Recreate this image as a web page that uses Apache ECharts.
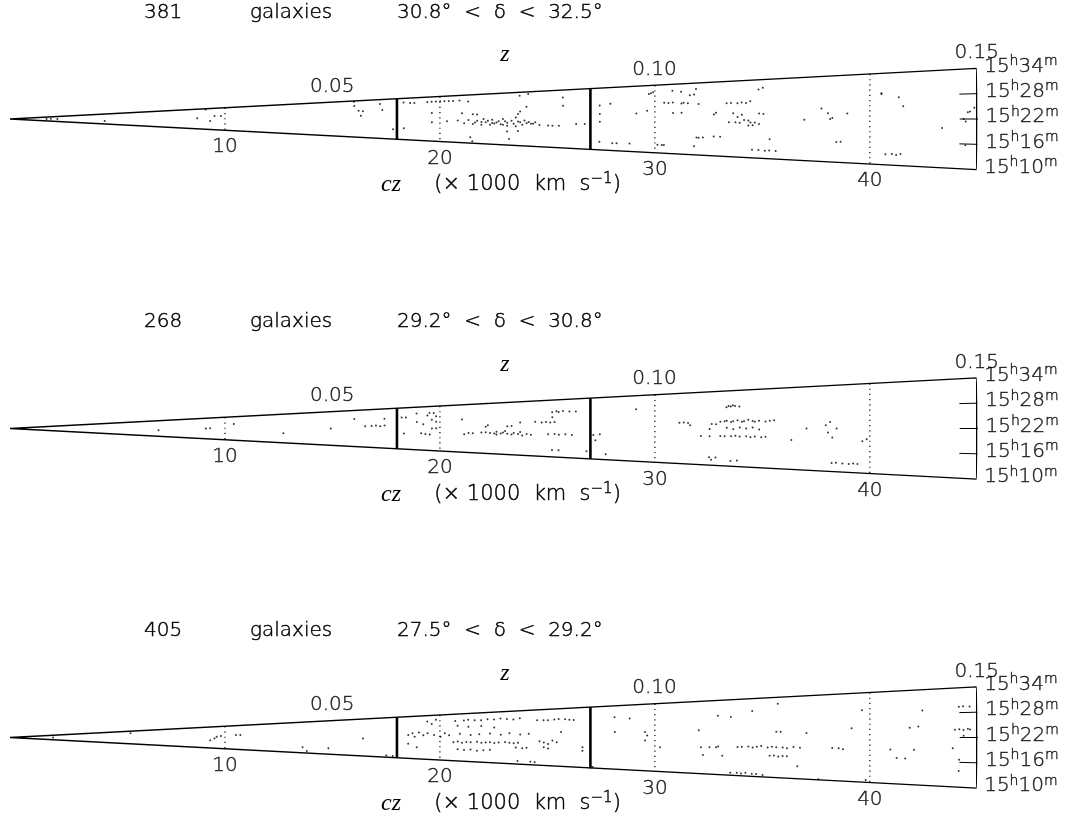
<!DOCTYPE html>
<html>
<head>
<meta charset="utf-8">
<title>Redshift slices</title>
<script src="https://cdn.jsdelivr.net/npm/echarts@6/dist/echarts.min.js"></script>
<style>
    html, body { margin: 0; padding: 0; background: #fff; }
    #chart { width: 1072px; height: 830px; }
</style>
</head>
<body>
<div id="chart"></div>
<script>
// slice headers
const galaxyCounts = [381, 268, 405];
const decLow = ['30.8', '29.2', '27.5'];
const decHigh = ['32.5', '30.8', '29.2'];

// ticks
const czTicks = [10, 20, 30, 40];        // cz, 1000 km/s
const zTicks = [0.05, 0.10, 0.15];
const raTicks = [10, 16, 22, 28, 34];    // RA minutes after 15h
const sampleLimits = [18, 27];           // thick lines, cz in 1000 km/s

// galaxies: [cz (1000 km/s), RA minutes after 15h]
const slice1 = [
    [1.7,22.5],[1.9,22.8],[2.2,22.0],[4.4,17.2],
    [8.7,22.8],[9.3,19.7],[9.5,25.4],[9.8,25.2],[9.1,33.2],
    [16.0,33.5],[16.0,30.6],[16.2,27.5],[16.4,27.0],[16.3,24.2],[17.2,31.3],[17.3,27.5],[17.8,15.8],
    [18.3,16.6],[18.3,31.6],[18.6,31.2],[18.8,31.0],
    [19.4,31.4],[19.6,31.4],[19.8,31.4],[20.0,31.5],[20.2,31.3],[20.4,31.4],[20.6,31.3],[20.9,31.4],[21.3,30.7],
    [19.6,25.3],[19.6,20.2],[20.3,20.8],[21.0,24.9],[21.5,24.4],[21.7,24.2],
    [20.8,21.2],[21.1,19.8],[21.3,21.5],[21.5,19.5],[21.7,21.2],[21.9,19.2],[22.0,22.0],[22.1,20.4],[22.2,21.2],
    [22.3,19.3],[22.4,21.6],[22.5,19.9],[22.7,20.9],[22.8,19.6],[22.9,22.0],[23.1,20.3],[23.1,18.9],[23.3,21.2],
    [23.4,19.8],[23.5,22.7],[23.6,24.3],[23.7,20.5],[23.8,19.4],[23.9,21.3],[24.0,20.2],[24.2,19.9],[24.3,19.9],
    [21.9,20.6],[22.6,20.4],[23.0,21.0],[22.4,20.1],[23.6,20.9],[24.1,20.7],[21.6,20.3],[22.9,19.3],[23.5,18.7],
    [24.4,20.6],[24.6,19.4],
    [23.7,32.5],[24.1,33.1],[24.0,27.4],[23.7,25.4],[25.0,19.2],[25.2,19.2],[25.5,19.2],[25.7,30.9],[25.7,27.5],
    [26.3,20.0],[26.7,20.0],
    [21.4,12.9],[21.5,11.0],[23.2,12.8],[23.1,16.2],[23.6,16.6],
    [27.4,27.2],[27.9,27.8],[27.4,23.9],[27.4,20.9],[27.4,13.2],[28.0,12.8],[28.2,12.8],[28.8,12.9],
    [29.7,31.0],[29.8,31.2],[29.9,31.5],[29.1,24.0],[29.6,25.0],
    [30.1,12.9],[30.3,12.9],[30.4,12.9],[30.4,27.7],[30.6,27.6],[30.8,27.7],[30.8,31.8],[31.2,31.3],
    [31.2,27.3],[31.3,27.5],[31.5,27.3],[31.6,30.0],[31.8,30.2],[30.8,24.1],[31.2,24.1],[32.0,27.0],[31.9,32.0],
    [31.8,12.9],[31.9,15.8],[32.0,15.8],[32.2,15.9],[32.7,16.3],[33.0,16.3],[32.8,24.0],[32.7,23.5],
    [33.3,27.0],[33.5,27.1],[33.8,27.0],[34.0,27.2],[34.2,27.0],[34.4,27.5],
    [33.6,23.8],[33.8,22.6],[34.0,23.3],[34.3,21.5],[34.4,20.9],[34.6,20.9],[34.8,23.7],
    [33.4,21.0],[33.7,21.0],[33.9,20.8],[34.1,21.7],[34.3,20.0],[34.5,20.1],
    [34.8,31.0],[35.0,31.5],[35.0,23.5],[34.8,20.5],
    [34.5,12.5],[34.8,12.5],[35.1,12.4],[35.3,12.5],[35.6,12.4],[35.3,15.9],
    [36.9,21.8],[37.7,25.0],[38.0,23.6],[38.1,22.0],[38.2,22.3],[38.9,23.5],[38.4,15.6],[38.6,15.7],
    [40.5,28.6],[40.5,28.8],[41.3,27.6],[41.5,25.3],[40.7,12.8],[41.0,12.9],[41.2,12.7],[41.4,13.0],
    [43.3,19.8],[44.3,22.0],[44.4,21.4],[44.5,23.6],[44.6,23.8],[44.8,24.7],[44.4,15.7]
];
const slice2 = [
    [6.9,19.3],[9.1,22.0],[9.3,22.2],[10.4,26.6],[12.7,18.0],[14.9,22.0],[16.0,28.4],
    [16.5,23.4],[16.8,23.6],[17.0,23.9],[17.2,23.4],[17.4,23.8],[17.4,27.9],
    [18.2,28.4],[18.4,28.3],[18.3,19.1],[18.9,30.4],[18.9,25.7],[19.2,24.4],[19.1,19.3],[19.3,18.9],[19.5,18.7],
    [19.4,29.2],[19.5,30.4],[19.6,26.8],[19.7,30.4],[19.8,28.6],[19.8,25.6],[19.6,22.0],[19.8,22.1],
    [21.0,26.6],
    [21.1,19.1],[21.3,19.8],[21.5,19.6],[21.9,20.0],[22.1,22.8],[22.2,23.6],[22.1,20.2],[22.3,19.8],[22.5,19.6],
    [22.6,19.2],[22.8,19.7],[22.9,20.1],[23.1,19.6],[23.3,19.3],[23.4,20.0],[23.6,19.5],[23.8,18.9],[24.0,19.6],
    [24.2,19.3],[23.1,23.0],[23.3,23.1],[22.6,20.5],[23.0,20.8],[23.7,20.4],
    [23.7,24.7],[24.4,24.9],[24.7,24.6],[24.9,24.8],[25.1,24.5],[25.3,24.7],
    [25.2,28.9],[25.4,29.2],[25.5,28.9],[25.7,29.2],[26.0,29.0],[26.3,28.9],[25.2,26.8],
    [25.0,19.6],[25.3,19.7],[25.5,19.4],[25.8,19.6],[26.1,19.3],
    [25.2,12.9],[25.5,12.9],[26.8,13.0],
    [27.1,19.4],[27.2,17.4],[27.4,19.8],[27.7,12.1],[29.1,29.0],
    [31.1,24.0],[31.3,24.0],[31.5,23.9],[31.6,23.1],[32.1,19.5],[32.5,19.5],[32.5,21.8],[32.6,23.5],[32.8,23.4],
    [32.5,12.6],[32.8,12.6],[33.5,11.7],[33.8,11.9],[32.6,11.8],
    [33.3,28.8],[33.4,29.2],[33.5,29.0],[33.7,29.1],[33.9,28.9],[33.6,29.4],
    [33.0,24.2],[33.2,24.3],[33.3,24.5],[33.5,24.1],[33.6,24.3],[33.8,24.6],[34.0,24.1],[34.1,24.3],[34.3,24.7],
    [34.5,24.3],[34.6,24.1],[34.8,24.4],[35.1,24.1],[35.3,24.3],[35.5,24.5],
    [33.3,22.2],[33.6,21.8],[33.9,22.3],[34.2,22.0],[34.5,22.3],[34.8,21.7],
    [33.0,19.6],[33.2,19.5],[33.5,19.5],[33.7,19.7],[33.9,19.5],[34.2,19.6],[34.4,19.3],[34.6,19.5],[34.9,19.3],[35.1,19.5],
    [36.3,18.6],[37.0,22.0],[37.9,22.9],[38.1,23.8],[38.0,20.9],[38.2,19.5],[38.4,22.0],
    [38.2,12.4],[38.4,12.5],[38.7,12.4],[39.0,12.3],[39.2,12.5],[39.4,12.4],
    [39.6,18.6],[39.8,19.1]
];
const slice3 = [
    [2.0,22.3],[5.6,30.0],[9.3,18.8],[9.5,20.8],[9.6,22.7],[9.8,23.5],[10.5,24.5],[10.7,24.5],
    [13.6,14.4],[13.8,11.6],[14.8,14.3],[16.4,21.3],[17.5,11.0],[17.8,11.0],
    [18.5,23.4],[18.7,24.4],[18.8,22.4],[19.0,24.8],[19.2,23.3],[18.5,18.4],[18.9,16.5],
    [19.4,30.8],[19.6,29.4],[19.8,31.5],[19.4,24.3],[19.7,23.3],[20.0,22.4],[20.2,24.2],[20.4,23.2],
    [20.7,30.5],[21.1,30.6],[21.3,30.9],[21.6,30.5],[21.9,30.4],[22.2,30.8],[22.5,30.5],[22.8,30.9],[23.1,30.5],
    [23.4,30.2],[23.7,30.7],
    [20.8,28.0],[21.3,27.4],[21.9,27.6],[22.5,26.7],
    [20.9,23.9],[21.4,23.3],[21.8,23.6],[22.3,23.9],[22.8,23.3],[23.2,23.9],[23.7,23.3],[24.1,23.7],
    [20.6,19.6],[20.8,19.9],[21.0,19.4],[21.2,19.7],[21.4,19.6],[21.7,19.9],[21.9,19.4],[22.1,19.6],[22.3,19.7],
    [22.5,19.4],[22.7,19.6],[23.0,19.9],[23.2,19.6],[23.4,19.4],[23.6,19.6],
    [20.8,16.0],[21.1,15.7],[21.4,16.0],[21.7,15.5],[22.0,15.8],[22.3,16.1],
    [23.5,17.5],[23.8,17.2],[24.0,17.4],
    [23.6,11.4],[24.2,11.3],[24.4,11.2],
    [24.5,29.5],[24.8,29.4],[25.0,29.3],[25.3,29.6],[25.5,29.7],[25.8,29.5],[26.0,29.3],[26.2,29.1],
    [24.6,20.4],[24.8,19.8],[25.0,19.2],[25.2,20.7],[25.4,20.0],[24.8,17.8],[25.0,17.3],
    [26.6,18.1],[26.6,16.7],[25.6,24.3],[27.0,10.1],[27.1,10.4],
    [28.1,29.7],[28.8,29.0],[28.1,24.1],[29.5,24.0],[29.6,22.7],[29.5,20.9],[30.2,18.6],
    [32.0,24.4],[32.1,18.8],[32.2,16.2],[32.5,18.8],[32.8,18.8],[32.9,19.1],[33.1,16.1],
    [32.9,29.0],[33.5,28.5],[34.5,30.2],[35.7,32.1],
    [33.8,19.0],[34.0,19.1],[34.3,19.2],[34.5,18.9],[34.7,19.2],[34.9,19.4],[35.2,19.0],[35.4,19.2],[35.6,19.1],
    [35.9,19.0],[36.1,18.8],[36.4,19.2],[36.7,19.0],
    [35.3,16.5],[35.5,16.6],[35.7,16.3],[35.9,16.5],[36.1,16.5],
    [35.6,23.7],[35.8,23.7],[36.6,13.6],[37.0,23.3],
    [33.5,10.8],[33.8,10.9],[34.0,10.7],[34.2,11.0],[34.5,10.8],[34.7,10.8],[35.0,10.6],
    [37.6,10.2],[38.2,19.1],[38.5,19.0],[38.7,18.8],[39.1,24.5],[39.8,10.6],[39.6,29.3],
    [40.9,18.9],[41.2,16.7],[41.6,16.6],[42.0,18.9],[42.2,24.8],[41.8,24.5],[42.4,28.8],
    [43.8,19.4],[44.1,16.6],[43.9,23.9],[44.1,24.0],[44.3,23.8],[44.5,24.1],[44.6,23.9],
    [44.1,29.4],[44.3,29.5],[44.6,29.4],[44.3,22.4],[44.1,13.9]
];

const slices = [slice1, slice2, slice3];
const C = 299.792;                 // speed of light, 1000 km/s
const czMax = 0.15 * C;
const raMid = 22;
const raLo = raTicks[0], raHi = raTicks[raTicks.length - 1];
const apexY = [119, 428.5, 737.5];
const FONT = 'DejaVu Sans';
const INK = '#000';

const chart = echarts.init(document.getElementById('chart'));

function seg(i, pts, style) {
    return {
        type: 'line', coordinateSystem: 'polar', polarIndex: i,
        data: pts, symbol: 'none', silent: true, clip: false,
        lineStyle: Object.assign({ color: '#000', width: 1 }, style)
    };
}

function raText(ra) {
    const m = String(ra).padStart(2, '0');
    return '{n|15}{u|h}{n|' + m + '}{u|m}';
}

// thin font, thickened a little with a stroke
const ink = { color: INK, fontFamily: FONT, fontWeight: 300, textBorderColor: INK, textBorderWidth: 0.45 };
const inkG = { fill: INK, fontFamily: FONT, fontWeight: 300, stroke: INK, lineWidth: 0.45 };

const series = [];
const graphic = [];
slices.forEach((pts, i) => {
    // wedge outline, sample limits, cz grid, RA ticks
    series.push(seg(i, [[0, raMid], [czMax, raHi], [czMax, raLo], [0, raMid]], { width: 1.3 }));
    sampleLimits.forEach(r => series.push(seg(i, [[r, raHi], [r, raLo]], { width: 2.6 })));
    czTicks.forEach(r => series.push(seg(i, [[r, raHi], [r, raLo]], { width: 1.2, type: [1.2, 4] })));
    raTicks.slice(1, -1).forEach(ra => series.push(seg(i, [[czMax - 0.85, ra], [czMax, ra]], { width: 1 })));

    // galaxies
    series.push({
        type: 'scatter', coordinateSystem: 'polar', polarIndex: i,
        data: pts, symbolSize: 2, silent: true,
        itemStyle: { color: '#000' }
    });

    // cz tick labels below the wedge
    series.push({
        type: 'scatter', coordinateSystem: 'polar', polarIndex: i, silent: true,
        data: czTicks.map(c => [c, raLo]), symbolSize: 1,
        itemStyle: { color: 'rgba(0,0,0,0)' },
        label: Object.assign({ show: true, position: 'bottom', distance: 6.5,
            formatter: p => String(p.value[0]), fontSize: 20, lineHeight: 20 }, ink)
    });
    // z labels above the wedge
    series.push({
        type: 'scatter', coordinateSystem: 'polar', polarIndex: i, silent: true,
        data: zTicks.map(z => [z * C, raHi]), symbolSize: 1,
        itemStyle: { color: 'rgba(0,0,0,0)' },
        label: Object.assign({ show: true, position: 'top', distance: 5,
            formatter: p => (p.value[0] / C).toFixed(2), fontSize: 20, lineHeight: 20 }, ink)
    });
    // RA labels at the right end
    series.push({
        type: 'scatter', coordinateSystem: 'polar', polarIndex: i, silent: true,
        data: raTicks.map(ra => [czMax, ra]), symbolSize: 1,
        itemStyle: { color: 'rgba(0,0,0,0)' },
        label: { show: true, position: 'right', distance: 7, offset: [0, -2],
            formatter: p => raText(p.value[1]),
            rich: {
                n: Object.assign({ fontSize: 20, lineHeight: 24 }, ink),
                u: Object.assign({ fontSize: 14, lineHeight: 14, verticalAlign: 'top' }, ink)
            } }
    });

    const y = apexY[i];
    const txt = Object.assign({ fontSize: 20, verticalAlign: 'middle' }, inkG);
    graphic.push({ type: 'text', x: 144, y: y - 106.5, silent: true, style: Object.assign({ text: String(galaxyCounts[i]) }, txt) });
    graphic.push({ type: 'text', x: 250, y: y - 106.5, silent: true, style: Object.assign({ text: 'galaxies' }, txt) });
    graphic.push({ type: 'text', x: 397, y: y - 106.5, silent: true,
        style: Object.assign({ text: decLow[i] + '°  <  δ  <  ' + decHigh[i] + '°' }, txt) });
    graphic.push({ type: 'text', x: 505, y: y - 64, silent: true,
        style: { text: 'z', fill: INK, fontFamily: 'Liberation Serif', fontStyle: 'italic', fontSize: 24,
            align: 'center', verticalAlign: 'middle' } });
    graphic.push({ type: 'text', x: 381, y: y + 66, silent: true,
        style: {
            text: '{i|cz}{t|     (× 1000  km  s}{u|−1}{t|)}', verticalAlign: 'middle',
            rich: {
                i: { fill: INK, fontFamily: 'Liberation Serif', fontStyle: 'italic', fontSize: 24, lineHeight: 26 },
                t: Object.assign({ fontSize: 21, lineHeight: 26 }, inkG),
                u: Object.assign({ fontSize: 15, lineHeight: 15, verticalAlign: 'top' }, inkG)
            }
        } });
});

chart.setOption({
    animation: false,
    backgroundColor: '#fff',
    polar: apexY.map(y => ({ center: [10, y], radius: 968 })),
    angleAxis: apexY.map((y, i) => ({
        polarIndex: i, type: 'value', min: raMid - 720, max: raMid + 720,
        startAngle: 180, clockwise: false, show: false
    })),
    radiusAxis: apexY.map((y, i) => ({
        polarIndex: i, type: 'value', min: 0, max: czMax, show: false
    })),
    graphic: graphic,
    series: series
});
</script>
</body>
</html>
